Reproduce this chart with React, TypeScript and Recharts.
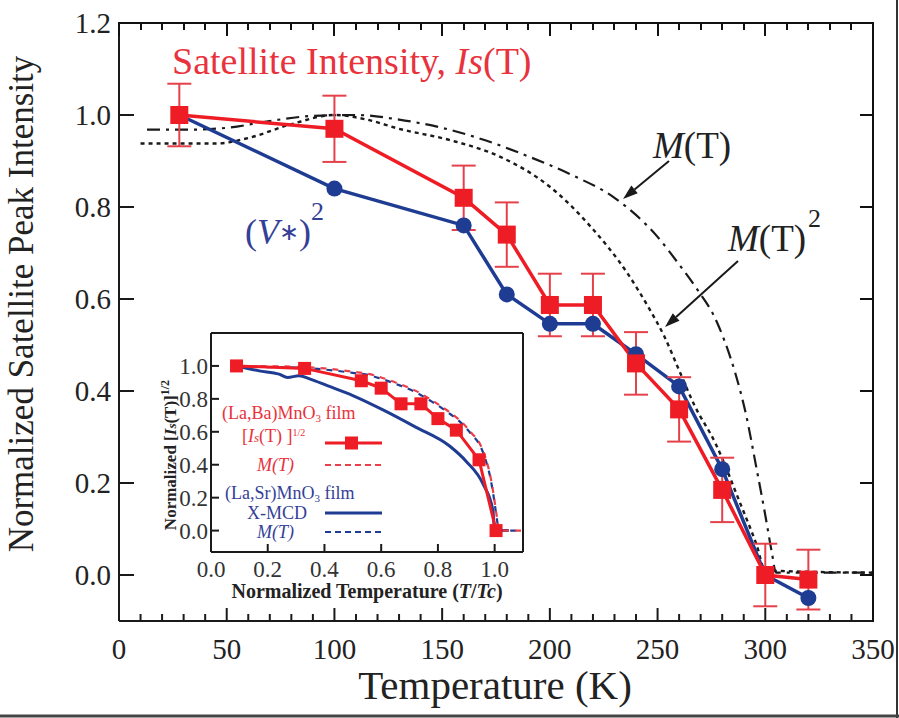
import React from "react";
import { ComposedChart, Line, XAxis, YAxis, ErrorBar } from "recharts";

// main panel: temperature (K)
const tempK = [28, 100, 160, 180, 200, 220, 240, 260, 280, 300, 320];
const satIntensity = [1.0, 0.97, 0.82, 0.74, 0.587, 0.587, 0.46, 0.36, 0.185, 0.0, -0.01];
const satError = [0.068, 0.072, 0.07, 0.07, 0.068, 0.068, 0.068, 0.07, 0.07, 0.068, 0.065];
const vStarSq = [1.0, 0.84, 0.76, 0.61, 0.546, 0.546, 0.48, 0.41, 0.23, 0.0, -0.05];

// M(T), dash-dot curve
const mTemp = [13, 30, 50, 70, 90, 110, 130, 150, 170, 190, 210, 230, 250, 260, 270, 276, 281, 286, 291, 296, 300, 303, 305, 350];
const mValue = [0.968, 0.968, 0.972, 0.987, 0.998, 1.0, 0.99, 0.972, 0.945, 0.91, 0.87, 0.82, 0.735, 0.675, 0.61, 0.565, 0.51, 0.44, 0.35, 0.23, 0.13, 0.05, 0.005, 0.005];

// M(T)^2, dotted curve
const m2Temp = [10, 45, 60, 80, 100, 115, 130, 154, 177, 200, 219, 236, 246, 253, 260, 267, 277, 288, 296, 300, 350];
const m2Value = [0.938, 0.938, 0.95, 0.98, 1.0, 0.99, 0.97, 0.945, 0.909, 0.844, 0.757, 0.656, 0.58, 0.52, 0.445, 0.37, 0.285, 0.16, 0.065, 0.01, 0.005];

// inset: normalized temperature T/Tc
const insetT = [0.09, 0.33, 0.53, 0.6, 0.67, 0.74, 0.8, 0.865, 0.945, 1.005];
const insetIs = [1.0, 0.985, 0.91, 0.865, 0.77, 0.77, 0.68, 0.61, 0.43, 0.0];

const insetMT = [0.09, 0.2, 0.3, 0.4, 0.5, 0.56, 0.6, 0.665, 0.72, 0.78, 0.84, 0.88, 0.92, 0.95, 0.97, 0.985, 0.998, 1.008, 1.015, 1.1];
const insetMBa = [1.0, 0.998, 0.995, 0.985, 0.965, 0.95, 0.93, 0.89, 0.85, 0.79, 0.72, 0.665, 0.59, 0.52, 0.43, 0.33, 0.2, 0.08, 0.0, 0.0];
const insetMSr = [0.995, 0.993, 0.99, 0.978, 0.958, 0.943, 0.922, 0.882, 0.842, 0.782, 0.712, 0.657, 0.582, 0.512, 0.42, 0.32, 0.19, 0.07, 0.0, 0.0];

const xmcdT = [0.09, 0.17, 0.24, 0.27, 0.31, 0.35, 0.41, 0.5, 0.61, 0.72, 0.84, 0.9, 0.96, 0.994, 1.0, 1.05];
const xmcdV = [1.0, 0.97, 0.95, 0.93, 0.94, 0.92, 0.88, 0.82, 0.73, 0.63, 0.515, 0.42, 0.28, 0.12, 0.0, 0.0];

const yLabels = [0, 0.2, 0.4, 0.6, 0.8, 1.0, 1.2];
const insetXLabels = [0, 0.2, 0.4, 0.6, 0.8, 1.0];
const insetYLabels = [0, 0.2, 0.4, 0.6, 0.8, 1.0];

const xTicks = Array.from({ length: 36 }, (_, i) => i * 10);

const zip = (xs: number[], ys: number[]) => xs.map((t, i) => ({ t, v: ys[i] }));

const satData = tempK.map((t, i) => ({ t, v: satIntensity[i], err: satError[i] }));
const vStarData = zip(tempK, vStarSq);
const mData = zip(mTemp, mValue);
const m2Data = zip(m2Temp, m2Value);
const insetIsData = zip(insetT, insetIs);
const insetBaData = zip(insetMT, insetMBa);
const insetSrData = zip(insetMT, insetMSr);
const xmcdData = zip(xmcdT, xmcdV);

const serif = "'Liberation Serif', 'Times New Roman', serif";
const ink = "#1a1a1a";
const red = "#ee1d25";
const navy = "#1f3c93";
const redText = "#e8323c";
const navyText = "#343f97";

// main plot box
const W = 899;
const H = 718;
const M = { top: 23, right: 26, bottom: 0, left: 0 };
const plotLeft = 119;
const plotTop = 23;
const plotRight = 873;
const plotBottom = 621;
const px = (t: number) => plotLeft + (t / 350) * (plotRight - plotLeft);
const py = (v: number) => plotBottom - ((v + 0.1) / 1.3) * (plotBottom - plotTop);

const BottomTick = (p: any) => {
  const major = p.payload.value % 50 === 0;
  return (
    <g>
      <line x1={p.x} x2={p.x} y1={p.y} y2={p.y - (major ? 13 : 7)} stroke={ink} strokeWidth={2} />
      {major && (
        <text x={p.x} y={p.y + 38} textAnchor="middle" fontSize={29} fontFamily={serif} fill="#222">
          {p.payload.value}
        </text>
      )}
    </g>
  );
};

const LeftTick = (p: any) => (
  <g>
    <line x1={p.x} x2={p.x + 15} y1={p.y} y2={p.y} stroke={ink} strokeWidth={2} />
    <text x={p.x - 8} y={p.y + 10} textAnchor="end" fontSize={29} fontFamily={serif} fill="#222">
      {Number(p.payload.value).toFixed(1)}
    </text>
  </g>
);

const InsetBottomTick = (p: any) => (
  <g>
    <line x1={p.x} x2={p.x} y1={p.y} y2={p.y - 8} stroke={ink} strokeWidth={2} />
    <text x={p.x} y={p.y + 25} textAnchor="middle" fontSize={23} fontFamily={serif} fill="#333">
      {Number(p.payload.value).toFixed(1)}
    </text>
  </g>
);

const InsetLeftTick = (p: any) => (
  <g>
    <line x1={p.x} x2={p.x + 8} y1={p.y} y2={p.y} stroke={ink} strokeWidth={2} />
    <text x={p.x - 3} y={p.y + 8} textAnchor="end" fontSize={23} fontFamily={serif} fill="#333">
      {Number(p.payload.value).toFixed(1)}
    </text>
  </g>
);

const NoTick = () => <g />;

const square = (size: number, color: string) => (p: any) =>
  <rect key={`s${p.index}`} x={p.cx - size / 2} y={p.cy - size / 2} width={size} height={size} fill={color} />;

const circle = (r: number, color: string) => (p: any) =>
  <circle key={`c${p.index}`} cx={p.cx} cy={p.cy} r={r} fill={color} />;

const Arrow = ({ x1, y1, x2, y2 }: { x1: number; y1: number; y2: number; x2: number }) => {
  const dx = x2 - x1;
  const dy = y2 - y1;
  const len = Math.hypot(dx, dy);
  const ux = dx / len;
  const uy = dy / len;
  const bx = x2 - ux * 15;
  const by = y2 - uy * 15;
  return (
    <g>
      <line x1={x1} y1={y1} x2={bx} y2={by} stroke={ink} strokeWidth={2} />
      <polygon
        points={`${x2},${y2} ${bx - uy * 5},${by + ux * 5} ${bx + uy * 5},${by - ux * 5}`}
        fill={ink}
      />
    </g>
  );
};

const frame = { stroke: ink, strokeWidth: 2 };

const MainChart = () => (
  <ComposedChart width={W} height={H} margin={M}>
    <XAxis
      xAxisId="b"
      dataKey="t"
      type="number"
      domain={[0, 350]}
      ticks={xTicks}
      interval={0}
      height={97}
      tickSize={0}
      tickMargin={0}
      tickLine={false}
      tick={<BottomTick />}
      axisLine={frame}
      allowDataOverflow
    />
    <YAxis
      yAxisId="l"
      type="number"
      domain={[-0.1, 1.2]}
      ticks={yLabels}
      interval={0}
      width={119}
      tickSize={0}
      tickMargin={0}
      tickLine={false}
      tick={<LeftTick />}
      axisLine={frame}
      allowDataOverflow
    />
    <Line xAxisId="b" yAxisId="l" data={mData} dataKey="v" type="monotone" stroke={ink} strokeWidth={2.2} strokeDasharray="13 6 3 6" dot={false} isAnimationActive={false} />
    <Line xAxisId="b" yAxisId="l" data={m2Data} dataKey="v" type="monotone" stroke={ink} strokeWidth={2.4} strokeDasharray="4 4" dot={false} isAnimationActive={false} />
    <Line xAxisId="b" yAxisId="l" data={vStarData} dataKey="v" type="linear" stroke={navy} strokeWidth={3.5} dot={circle(8, navy)} isAnimationActive={false} />
    <Line xAxisId="b" yAxisId="l" data={satData} dataKey="v" type="linear" stroke={red} strokeWidth={3.5} dot={square(18, red)} isAnimationActive={false}>
      <ErrorBar dataKey="err" direction="y" width={12} stroke="#e4414a" strokeWidth={2} />
    </Line>
  </ComposedChart>
);

const InsetChart = () => (
  <ComposedChart width={380} height={272} margin={{ top: 4, right: 6, bottom: 0, left: 0 }}>
    <XAxis
      xAxisId="b"
      dataKey="t"
      type="number"
      domain={[0, 1.1]}
      ticks={insetXLabels}
      interval={0}
      height={48}
      tickSize={0}
      tickMargin={0}
      tickLine={false}
      tick={<InsetBottomTick />}
      axisLine={frame}
      allowDataOverflow
    />
    <XAxis xAxisId="t" orientation="top" dataKey="t" type="number" domain={[0, 1.1]} ticks={insetXLabels} height={1} tickSize={0} tickMargin={0} tickLine={false} tick={<NoTick />} axisLine={frame} allowDataOverflow />
    <YAxis
      yAxisId="l"
      type="number"
      domain={[-0.13, 1.2]}
      ticks={insetYLabels}
      interval={0}
      width={61}
      tickSize={0}
      tickMargin={0}
      tickLine={false}
      tick={<InsetLeftTick />}
      axisLine={frame}
      allowDataOverflow
    />
    <YAxis yAxisId="r" orientation="right" type="number" domain={[-0.13, 1.2]} ticks={insetYLabels} width={1} tickSize={0} tickMargin={0} tickLine={false} tick={<NoTick />} axisLine={frame} allowDataOverflow />
    <Line xAxisId="t" yAxisId="r" data={insetBaData} dataKey="v" stroke="none" dot={false} isAnimationActive={false} />
    <Line xAxisId="b" yAxisId="l" data={xmcdData} dataKey="v" type="monotone" stroke={navy} strokeWidth={3} dot={false} isAnimationActive={false} />
    <Line xAxisId="b" yAxisId="l" data={insetSrData} dataKey="v" type="monotone" stroke={navy} strokeWidth={2.2} strokeDasharray="6 6" strokeDashoffset={6} dot={false} isAnimationActive={false} />
    <Line xAxisId="b" yAxisId="l" data={insetBaData} dataKey="v" type="monotone" stroke="#e8404a" strokeWidth={2.2} strokeDasharray="6 6" dot={false} isAnimationActive={false} />
    <Line xAxisId="b" yAxisId="l" data={insetIsData} dataKey="v" type="linear" stroke={red} strokeWidth={3} dot={square(13, red)} isAnimationActive={false} />
  </ComposedChart>
);

// top and right edges of the main frame as plain html boxes
const FrameDivs = () => (
  <>
    <div style={{ position: "absolute", left: plotLeft - 1, top: plotTop - 1, width: plotRight - plotLeft + 2, height: 2, background: "#111" }} />
    <div style={{ position: "absolute", left: plotRight - 1, top: plotTop - 1, width: 2, height: plotBottom - plotTop + 2, background: "#111" }} />
    {xTicks.map((t) => (
      <div key={`tt${t}`} style={{ position: "absolute", left: px(t) - 1, top: plotTop, width: 2, height: t % 50 === 0 ? 13 : 7, background: "#111" }} />
    ))}
    {yLabels.map((v) => (
      <div key={`rt${v}`} style={{ position: "absolute", left: plotRight - 13, top: py(v) - 1, width: 13, height: 2, background: "#111" }} />
    ))}
  </>
);

const Annotations = () => (
  <svg width={W} height={H} style={{ position: "absolute", left: 0, top: 0, pointerEvents: "none" }} fontFamily={serif}>
    <text x={172} y={74} fontSize={38} fill={redText}>
      Satellite Intensity,{" "}
      <tspan fontStyle="italic">I</tspan>
      <tspan fontStyle="italic">s</tspan>
      (T)
    </text>
    <text x={245} y={244} fontSize={36} fill={navyText}>
      (<tspan fontStyle="italic">V</tspan>
      <tspan fontSize={24} dy={-4}>∗</tspan>
      <tspan dy={4}>)</tspan>
      <tspan fontSize={26} dy={-24}>2</tspan>
    </text>
    <text x={653} y={158} fontSize={37} fill="#222">
      <tspan fontStyle="italic">M</tspan>(T)
    </text>
    <text x={728} y={251} fontSize={37} fill="#222">
      <tspan fontStyle="italic">M</tspan>(T)
      <tspan fontSize={26} dy={-24} dx={2}>2</tspan>
    </text>
    <Arrow x1={669} y1={161} x2={623} y2={199} />
    <Arrow x1={738} y1={261} x2={665} y2={327} />

    <text x={33} y={304} fontSize={35} fill="#222" textAnchor="middle" transform="rotate(-90 33 304)">
      Normalized Satellite Peak Intensity
    </text>
    <text x={495} y={699} fontSize={41} fill="#222" textAnchor="middle">
      Temperature (K)
    </text>

    {/* inset labels */}
    <text x={176} y={455} fontSize={17} fontWeight="bold" fill="#222" textAnchor="middle" transform="rotate(-90 176 455)">
      Normalized [<tspan fontStyle="italic">I</tspan>
      <tspan fontStyle="italic" fontSize={13}>s</tspan>(T)]
      <tspan fontSize={12} dy={-7}>1/2</tspan>
    </text>
    <text x={367} y={598} fontSize={20} fontWeight="bold" fill="#222" textAnchor="middle">
      Normalized Temperature (<tspan fontStyle="italic">T</tspan>/<tspan fontStyle="italic">Tc</tspan>)
    </text>

    {/* inset legend */}
    <g fontSize={18}>
      <text x={222} y={419} fill={redText}>
        (La,Ba)MnO<tspan fontSize={11} dy={3}>3</tspan>
        <tspan dy={-3}> film</tspan>
      </text>
      <text x={242} y={442} fill={redText}>
        [<tspan fontStyle="italic">I</tspan>
        <tspan fontStyle="italic" fontSize={13}>s</tspan>(T) ]
        <tspan fontSize={10} dy={-6}>1/2</tspan>
      </text>
      <line x1={325} x2={382} y1={443} y2={443} stroke={red} strokeWidth={3} />
      <rect x={345} y={436.5} width={13} height={13} fill={red} />
      <text x={257} y={471} fill={redText} fontStyle="italic">
        M(T)
      </text>
      <line x1={325} x2={382} y1={465} y2={465} stroke="#e8404a" strokeWidth={2} strokeDasharray="6 4" />
      <text x={225} y={499} fill={navyText}>
        (La,Sr)MnO<tspan fontSize={11} dy={3}>3</tspan>
        <tspan dy={-3}> film</tspan>
      </text>
      <text x={247} y={519} fill={navyText}>
        X-MCD
      </text>
      <line x1={325} x2={382} y1={513} y2={513} stroke={navy} strokeWidth={3} />
      <text x={257} y={538} fill={navyText} fontStyle="italic">
        M(T)
      </text>
      <line x1={325} x2={382} y1={532} y2={532} stroke={navy} strokeWidth={2} strokeDasharray="6 4" />
    </g>

    {/* scan border */}
    <line x1={897} x2={897} y1={0} y2={718} stroke="#333" strokeWidth={2} />
    <line x1={0} x2={899} y1={716} y2={716} stroke="#444" strokeWidth={3} />
  </svg>
);

export default function App() {
  return (
    <div style={{ position: "absolute", left: 0, top: 0, width: W, height: H, background: "#fff", fontFamily: serif }}>
      <MainChart />
      <div style={{ position: "absolute", left: 150, top: 328 }}>
        <InsetChart />
      </div>
      <Annotations />
      <FrameDivs />
    </div>
  );
}
